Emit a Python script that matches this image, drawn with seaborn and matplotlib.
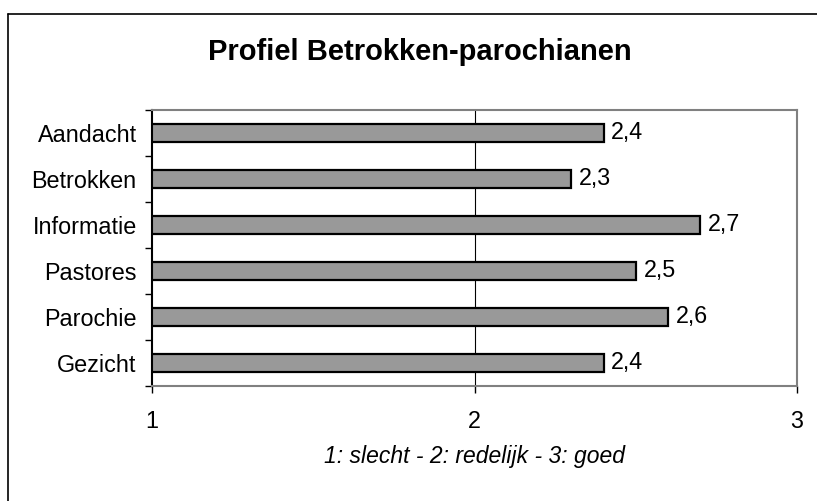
import matplotlib
matplotlib.use('Agg')
import matplotlib.pyplot as plt
import seaborn as sns
import pandas as pd
from matplotlib.lines import Line2D

categorieen = ['Aandacht', 'Betrokken', 'Informatie', 'Pastores', 'Parochie', 'Gezicht']
scores = [2.4, 2.3, 2.7, 2.5, 2.6, 2.4]
x_ticks = [1, 2, 3]

df = pd.DataFrame({'categorie': categorieen, 'score': scores})

sns.set_style('white')
plt.rcParams['font.family'] = ['Liberation Sans', 'DejaVu Sans']
plt.rcParams['text.color'] = 'black'
plt.rcParams['axes.labelcolor'] = 'black'
plt.rcParams['xtick.color'] = 'black'
plt.rcParams['ytick.color'] = 'black'

fig = plt.figure(figsize=(8.17, 5.01), dpi=100)
ax = fig.add_axes([152 / 817, 1 - 386 / 501, (797 - 152) / 817, (386 - 110) / 501])

sns.barplot(data=df, y='categorie', x='score', orient='h', width=0.4,
            color='#999999', edgecolor='black', linewidth=1.6, saturation=1, ax=ax)

ax.set_xlim(1, 3)
ax.set_ylim(len(categorieen) - 0.5, -0.5)
ax.axvline(2, color='black', linewidth=0.8, zorder=0)

for i, v in enumerate(scores):
    ax.text(v + 0.024, i, f'{v:.1f}'.replace('.', ','), va='center', ha='left', fontsize=16.8)

ax.set_xticks(x_ticks)
ax.set_xticklabels([str(t) for t in x_ticks], fontsize=16.8)
ax.tick_params(axis='x', direction='out', length=5, width=1, pad=12, bottom=True)
ax.set_yticks(range(len(categorieen)))
ax.set_yticklabels(categorieen, fontsize=16.8)
ax.tick_params(axis='y', which='major', length=0, pad=11)
ax.set_yticks([i - 0.5 for i in range(len(categorieen) + 1)], minor=True)
ax.tick_params(axis='y', which='minor', direction='out', length=5, width=1, left=True)

ax.set_xlabel('1: slecht - 2: redelijk - 3: goed', fontsize=16.5, style='italic', labelpad=9)
ax.set_ylabel('')

for side in ['top', 'right', 'bottom']:
    ax.spines[side].set_color('#808080')
    ax.spines[side].set_linewidth(1.5)
ax.spines['left'].set_color('black')
ax.spines['left'].set_linewidth(1.5)

fig.text(420 / 817, 1 - 52 / 501, 'Profiel Betrokken-parochianen', ha='center', va='center',
         fontsize=21, fontweight='bold')

# kader rond de grafiek (rechts en onder buiten beeld)
fig.add_artist(Line2D([8 / 817, 1], [1 - 14 / 501, 1 - 14 / 501], color='black', linewidth=1.2,
                      transform=fig.transFigure))
fig.add_artist(Line2D([8 / 817, 8 / 817], [0, 1 - 14 / 501], color='black', linewidth=1.2,
                      transform=fig.transFigure))

fig.savefig('out.png', dpi=100)
